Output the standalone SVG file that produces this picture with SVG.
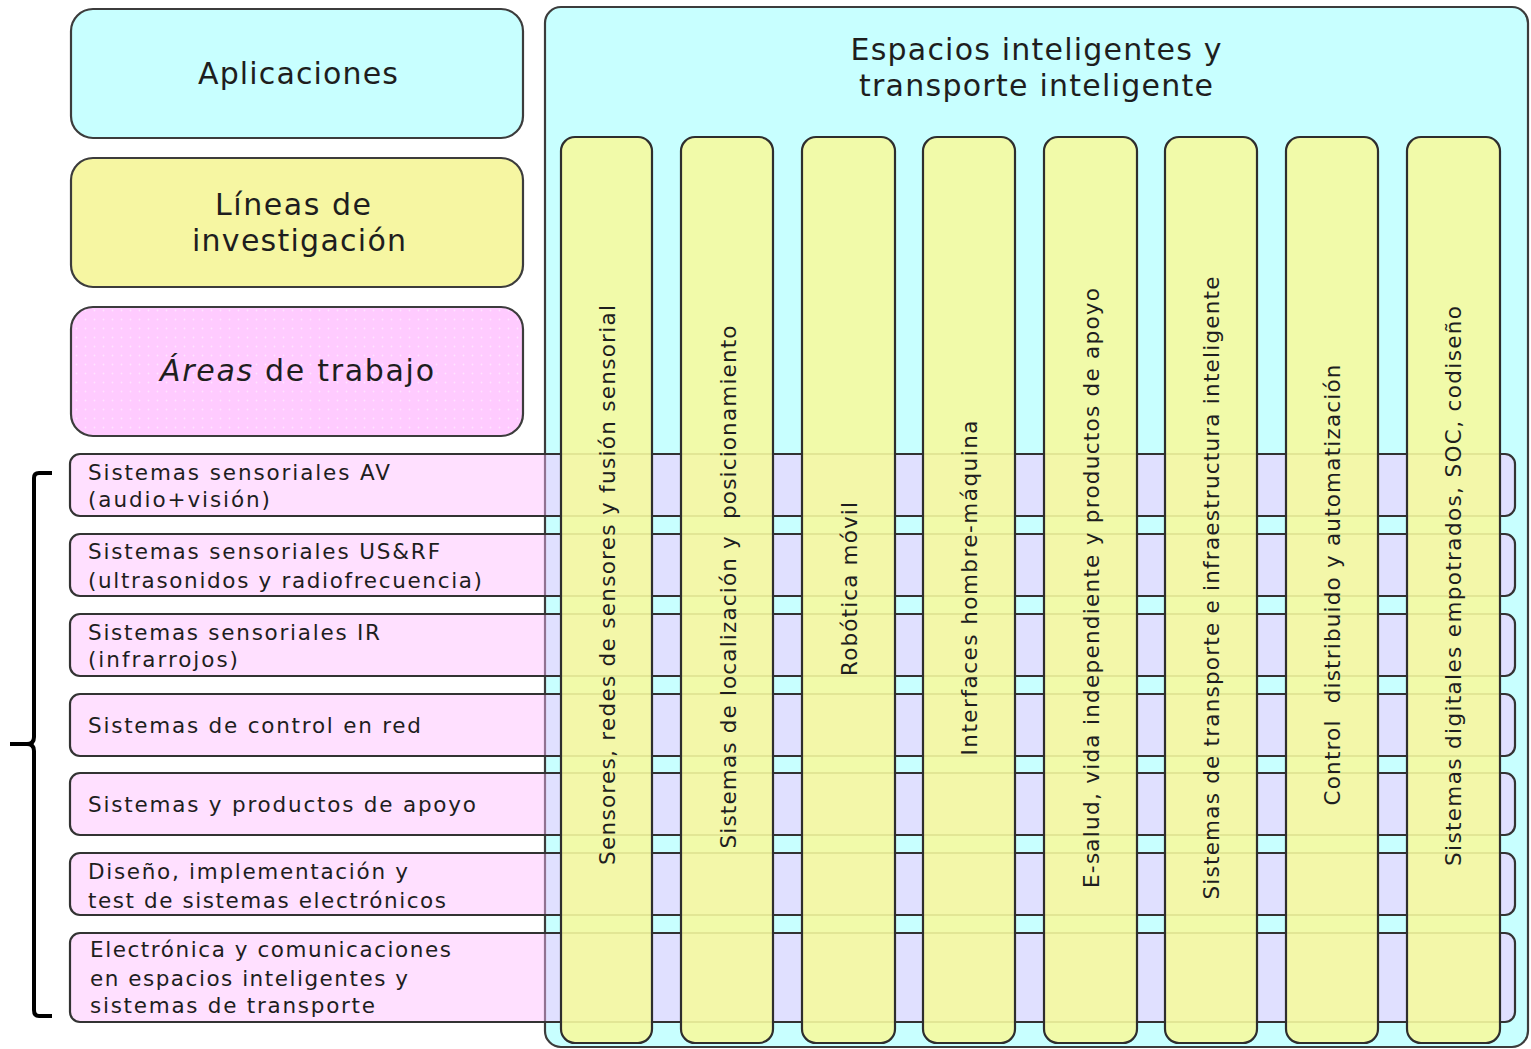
<svg xmlns="http://www.w3.org/2000/svg" width="1531" height="1049" viewBox="0 0 1531 1049">
  <style>
    text { font-family: "DejaVu Sans", Verdana, "Liberation Sans", sans-serif; fill: #1e1e1e; }
    .head { font-size: 30px; text-anchor: middle; }
    .row-label { font-size: 21.5px; }
    .col-label { font-size: 21.5px; text-anchor: middle; }
    .box { stroke: #3c3c3c; stroke-width: 2.2; }
    .cyan { fill: #c8ffff; }
    .yellow { fill: #f6f6a2; }
    .row { fill: #ffb8ff; fill-opacity: 0.44; stroke: #333; stroke-width: 2.2; }
    .col { fill: #f5f9a0; fill-opacity: 0.9; stroke: #2e2e2e; stroke-width: 2.2; }
    .brace { fill: none; stroke: #000; stroke-width: 4; stroke-linecap: butt; }
  </style>
  <defs>
    <pattern id="dots" width="9" height="9" patternUnits="userSpaceOnUse">
      <rect width="9" height="9" fill="#ffcbff"/>
      <circle cx="4.5" cy="4.5" r="0.9" fill="#ffe4ff"/>
    </pattern>
  </defs>

  <!-- container for the application domain -->
  <g id="espacios">
    <rect class="box cyan" x="545" y="7" width="983" height="1040" rx="16"/>
    <text class="head" x="1036" y="60" textLength="371" lengthAdjust="spacing">Espacios inteligentes y</text>
    <text class="head" x="1036" y="96" textLength="354" lengthAdjust="spacing">transporte inteligente</text>
  </g>

  <!-- legend boxes -->
  <g id="aplicaciones">
    <rect class="box cyan" x="71" y="9" width="452" height="129" rx="22"/>
    <text class="head" x="298" y="84" textLength="200" lengthAdjust="spacing">Aplicaciones</text>
  </g>
  <g id="lineas">
    <rect class="box yellow" x="71" y="158" width="452" height="129" rx="22"/>
    <text class="head" x="293" y="215" textLength="156" lengthAdjust="spacing">Líneas de</text>
    <text class="head" x="299" y="251" textLength="214" lengthAdjust="spacing">investigación</text>
  </g>
  <g id="areas">
    <rect class="box" fill="url(#dots)" x="71" y="307" width="452" height="129" rx="22"/>
    <text class="head" x="297" y="381" textLength="274" lengthAdjust="spacing"><tspan font-style="italic">Áreas</tspan> de trabajo</text>
  </g>

  <!-- work areas (rows) -->
  <g id="row-av">
    <rect class="row" x="70" y="454" width="1445" height="62" rx="10"/>
    <text class="row-label" x="88" y="480" textLength="302" lengthAdjust="spacing">Sistemas sensoriales AV</text>
    <text class="row-label" x="88" y="507" textLength="182" lengthAdjust="spacing">(audio+visión)</text>
  </g>
  <g id="row-usrf">
    <rect class="row" x="70" y="534" width="1445" height="62" rx="10"/>
    <text class="row-label" x="88" y="559" textLength="352" lengthAdjust="spacing">Sistemas sensoriales US&amp;RF</text>
    <text class="row-label" x="88" y="588" textLength="394" lengthAdjust="spacing">(ultrasonidos y radiofrecuencia)</text>
  </g>
  <g id="row-ir">
    <rect class="row" x="70" y="614" width="1445" height="62" rx="10"/>
    <text class="row-label" x="88" y="640" textLength="292" lengthAdjust="spacing">Sistemas sensoriales IR</text>
    <text class="row-label" x="88" y="667" textLength="150" lengthAdjust="spacing">(infrarrojos)</text>
  </g>
  <g id="row-control">
    <rect class="row" x="70" y="694" width="1445" height="62" rx="10"/>
    <text class="row-label" x="88" y="733" textLength="333" lengthAdjust="spacing">Sistemas de control en red</text>
  </g>
  <g id="row-apoyo">
    <rect class="row" x="70" y="773" width="1445" height="62" rx="10"/>
    <text class="row-label" x="88" y="812" textLength="388" lengthAdjust="spacing">Sistemas y productos de apoyo</text>
  </g>
  <g id="row-diseno">
    <rect class="row" x="70" y="853" width="1445" height="62" rx="10"/>
    <text class="row-label" x="88" y="879" textLength="320" lengthAdjust="spacing">Diseño, implementación y</text>
    <text class="row-label" x="88" y="908" textLength="358" lengthAdjust="spacing">test de sistemas electrónicos</text>
  </g>
  <g id="row-electronica">
    <rect class="row" x="70" y="933" width="1445" height="89" rx="10"/>
    <text class="row-label" x="90" y="957" textLength="361" lengthAdjust="spacing">Electrónica y comunicaciones</text>
    <text class="row-label" x="90" y="986" textLength="318" lengthAdjust="spacing">en espacios inteligentes y</text>
    <text class="row-label" x="90" y="1013" textLength="285" lengthAdjust="spacing">sistemas de transporte</text>
  </g>

  <!-- research lines (columns) -->
  <g id="col-sensores">
    <rect class="col" x="561" y="137" width="91" height="906" rx="14"/>
    <text class="col-label" transform="translate(615,585) rotate(-90)" textLength="560" lengthAdjust="spacing">Sensores, redes de sensores y fusión sensorial</text>
  </g>
  <g id="col-localizacion">
    <rect class="col" x="681" y="137" width="92" height="906" rx="14"/>
    <text class="col-label" transform="translate(736,587) rotate(-90)" textLength="523" lengthAdjust="spacing" xml:space="preserve">Sistemas de localización y  posicionamiento</text>
  </g>
  <g id="col-robotica">
    <rect class="col" x="802" y="137" width="93" height="906" rx="14"/>
    <text class="col-label" transform="translate(857,589) rotate(-90)" textLength="174" lengthAdjust="spacing">Robótica móvil</text>
  </g>
  <g id="col-interfaces">
    <rect class="col" x="923" y="137" width="92" height="906" rx="14"/>
    <text class="col-label" transform="translate(977,588) rotate(-90)" textLength="335" lengthAdjust="spacing">Interfaces hombre-máquina</text>
  </g>
  <g id="col-esalud">
    <rect class="col" x="1044" y="137" width="93" height="906" rx="14"/>
    <text class="col-label" transform="translate(1099,588) rotate(-90)" textLength="600" lengthAdjust="spacing">E-salud, vida independiente y productos de apoyo</text>
  </g>
  <g id="col-transporte">
    <rect class="col" x="1165" y="137" width="92" height="906" rx="14"/>
    <text class="col-label" transform="translate(1219,588) rotate(-90)" textLength="623" lengthAdjust="spacing">Sistemas de transporte e infraestructura inteligente</text>
  </g>
  <g id="col-control">
    <rect class="col" x="1286" y="137" width="92" height="906" rx="14"/>
    <text class="col-label" transform="translate(1340,585) rotate(-90)" textLength="441" lengthAdjust="spacing" xml:space="preserve">Control  distribuido y automatización</text>
  </g>
  <g id="col-digitales">
    <rect class="col" x="1407" y="137" width="93" height="906" rx="14"/>
    <text class="col-label" transform="translate(1461,586) rotate(-90)" textLength="560" lengthAdjust="spacing">Sistemas digitales empotrados, SOC, codiseño</text>
  </g>

  <!-- brace grouping the work areas -->
  <g id="connectors">
    <path class="brace" d="M52,473 H39 Q34,473 34,478 V737 Q34,744 27,744 H10 M27,744 Q34,744 34,751 V1010 Q34,1016 39,1016 H52"/>
  </g>
</svg>
